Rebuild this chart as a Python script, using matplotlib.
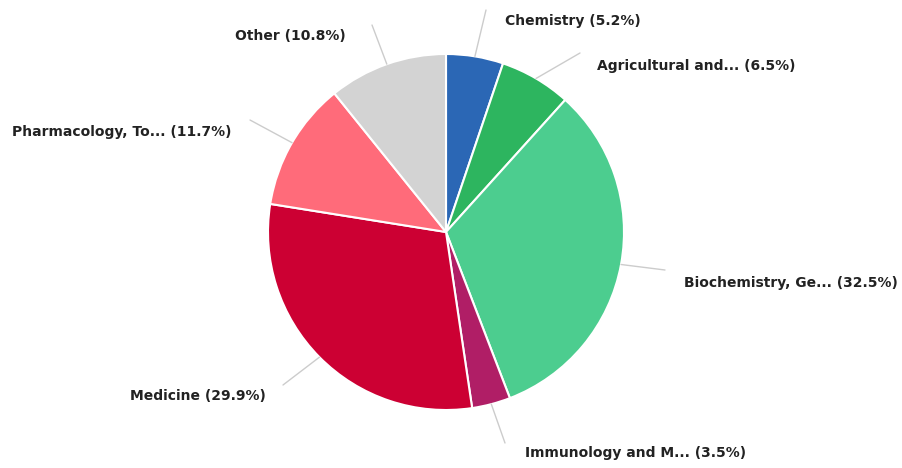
import matplotlib
matplotlib.use("Agg")
import matplotlib.pyplot as plt
import numpy as np

categories = ["Chemistry", "Agricultural and...", "Biochemistry, Ge...", "Immunology and M...",
              "Medicine", "Pharmacology, To...", "Other"]
values = [5.2, 6.5, 32.5, 3.5, 29.9, 11.7, 10.8]
colors = ["#2b67b5", "#2db55f", "#4ccd8f", "#b01e66", "#cc0033", "#ff6b7a", "#d3d3d3"]

W, H = 903, 468
fig = plt.figure(figsize=(W / 100, H / 100), dpi=100)
ax = fig.add_axes([0, 0, 1, 1])
ax.set_xlim(0, W)
ax.set_ylim(0, H)
ax.set_aspect("equal")
ax.axis("off")

cx, cy, R = 446, H - 232, 178
wedges, _ = ax.pie(values, center=(cx, cy), radius=R, startangle=90, counterclock=False,
                   colors=colors, wedgeprops=dict(edgecolor="white", linewidth=1.5))
ax.set_xlim(0, W)
ax.set_ylim(0, H)

# label layout: (line end x, line end y, text x, text y, ha) in pixel coords (y from top)
layout = [
    (486, 10, 505, 21, "left"),
    (580, 53, 597, 66, "left"),
    (665, 270, 684, 283, "left"),
    (505, 443, 525, 453, "left"),
    (283, 385, 266, 396, "right"),
    (250, 120, 232, 132, "right"),
    (372, 25, 346, 36, "right"),
]

for w, cat, val, (ex, ey, tx, ty, ha) in zip(wedges, categories, values, layout):
    ang = np.deg2rad((w.theta1 + w.theta2) / 2)
    px, py = cx + R * np.cos(ang), cy + R * np.sin(ang)
    ax.plot([px, ex], [py, H - ey], color="#cccccc", lw=1, solid_capstyle="round")
    ax.text(tx, H - ty, f"{cat} ({val}%)", ha=ha, va="center", fontsize=10,
            fontfamily="DejaVu Sans", fontweight="bold", color="#222222")

fig.savefig("out.png", dpi=100)
